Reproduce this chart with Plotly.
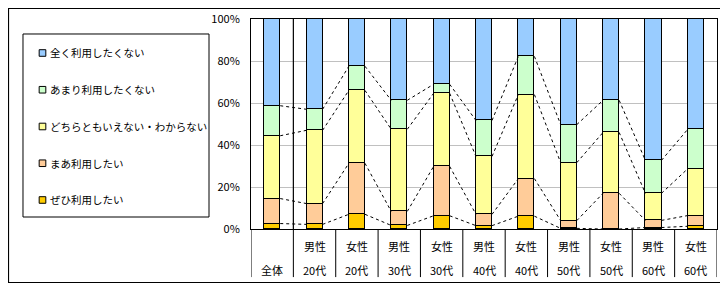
import plotly.graph_objects as go

# categories (two-row labels)
row1 = ['', '男性', '女性', '男性', '女性', '男性', '女性', '男性', '女性', '男性', '女性']
row2 = ['全体', '20代', '20代', '30代', '30代', '40代', '40代', '50代', '50代', '60代', '60代']

# series values (%), bottom to top of the stack
zehi      = [2.6, 2.2, 7.0, 1.7, 6.3, 1.6, 6.1, 0.3, 0.0, 0.7, 1.3]
maa       = [11.9, 9.9, 24.3, 6.7, 23.5, 5.4, 17.9, 3.7, 17.0, 3.4, 5.1]
dochira   = [29.9, 34.9, 34.7, 39.1, 34.8, 27.6, 40.0, 27.6, 29.0, 12.9, 22.3]
amari     = [14.3, 10.0, 11.5, 13.8, 4.3, 17.1, 18.2, 18.1, 15.3, 15.7, 18.8]
mattaku   = [41.3, 43.0, 22.5, 38.7, 31.1, 48.3, 17.8, 50.3, 38.7, 67.3, 52.5]

series_names = ['ぜひ利用したい', 'まあ利用したい', 'どちらともいえない・わからない',
                'あまり利用したくない', '全く利用したくない']
series_vals = [zehi, maa, dochira, amari, mattaku]
colors = ['#FFCC00', '#FFCC99', '#FFFF99', '#CCFFCC', '#99CCFF']

FONT = 'Noto Sans CJK JP'
BW = 0.38
x = list(range(len(row2)))

fig = go.Figure()

# stacked bars
for i, (name, vals) in enumerate(zip(series_names, series_vals)):
    fig.add_trace(go.Bar(
        x=x, y=vals, name=name, width=BW, showlegend=False,
        marker=dict(color=colors[i], line=dict(color='black', width=1.5)),
    ))

# series lines joining the segment tops of neighbouring bars
cum = [0.0] * len(x)
for vals in series_vals[:-1]:
    cum = [c + v for c, v in zip(cum, vals)]
    lx, ly = [], []
    for j in range(len(x) - 1):
        lx += [x[j] + BW / 2, x[j + 1] - BW / 2, None]
        ly += [cum[j], cum[j + 1], None]
    fig.add_trace(go.Scatter(x=lx, y=ly, mode='lines', showlegend=False, hoverinfo='skip',
                             line=dict(color='black', width=1, dash='3px,3px')))

shapes = []
annotations = []

# category separators below the axis
for j in range(len(x) + 1):
    shapes.append(dict(type='line', xref='x', yref='paper', x0=j - 0.5, x1=j - 0.5,
                       y0=0, y1=-0.229, line=dict(color='black', width=1)))
# full-height line between 全体 and the rest
shapes.append(dict(type='line', xref='x', yref='paper', x0=0.5, x1=0.5, y0=0, y1=1,
                   line=dict(color='black', width=1.2)))
# outer chart frame (kept inside the figure's own canvas)
shapes.append(dict(type='rect', xref='paper', yref='paper', x0=-0.5204, x1=1.0097,
                   y0=-0.2548, y1=1.05, line=dict(color='black', width=1.2), layer='above'))

# legend box, top entry = top of the stack
shapes.append(dict(type='rect', xref='paper', yref='paper', x0=-0.4893, x1=-0.0901,
                   y0=0.0571, y1=0.9286, line=dict(color='black', width=1), fillcolor='white'))
for k in range(len(series_names)):
    s = len(series_names) - 1 - k
    yc = 0.8381 - k * 0.175
    shapes.append(dict(type='rect', xref='paper', yref='paper', x0=-0.4546, x1=-0.4403,
                       y0=yc - 0.0157, y1=yc + 0.0157, fillcolor=colors[s],
                       line=dict(color='black', width=1)))
    annotations.append(dict(x=-0.4356, y=yc, xref='paper', yref='paper', text=series_names[s],
                            xanchor='left', yanchor='middle', showarrow=False,
                            font=dict(size=10.5, family=FONT, color='black')))

# two-row category labels
for j in x:
    if row1[j]:
        annotations.append(dict(x=j, y=-0.081, xref='x', yref='paper', text=row1[j],
                                xanchor='center', yanchor='middle', showarrow=False,
                                font=dict(size=11, family=FONT, color='black')))
    annotations.append(dict(x=j, y=-0.195, xref='x', yref='paper', text=row2[j],
                            xanchor='center', yanchor='middle', showarrow=False,
                            font=dict(size=11, family=FONT, color='black')))

# page body adds an 8px offset, margins compensate
fig.update_layout(
    width=728, height=288,
    margin=dict(l=243, r=19, t=11, b=67, autoexpand=False),
    barmode='stack', bargap=0,
    paper_bgcolor='white', plot_bgcolor='white',
    font=dict(family=FONT, size=11, color='black'),
    shapes=shapes, annotations=annotations,
    showlegend=False,
)
fig.update_xaxes(range=[-0.5, len(x) - 0.5], showticklabels=False, showgrid=False,
                 zeroline=False, showline=True, linecolor='black', linewidth=1, mirror=True)
fig.update_yaxes(range=[0, 100], dtick=20, ticksuffix='%', showgrid=True, gridcolor='#C0C0C0',
                 zeroline=False, showline=True, linecolor='black', linewidth=1, mirror=True,
                 ticklabelstandoff=8)

fig.write_html('out.html')
